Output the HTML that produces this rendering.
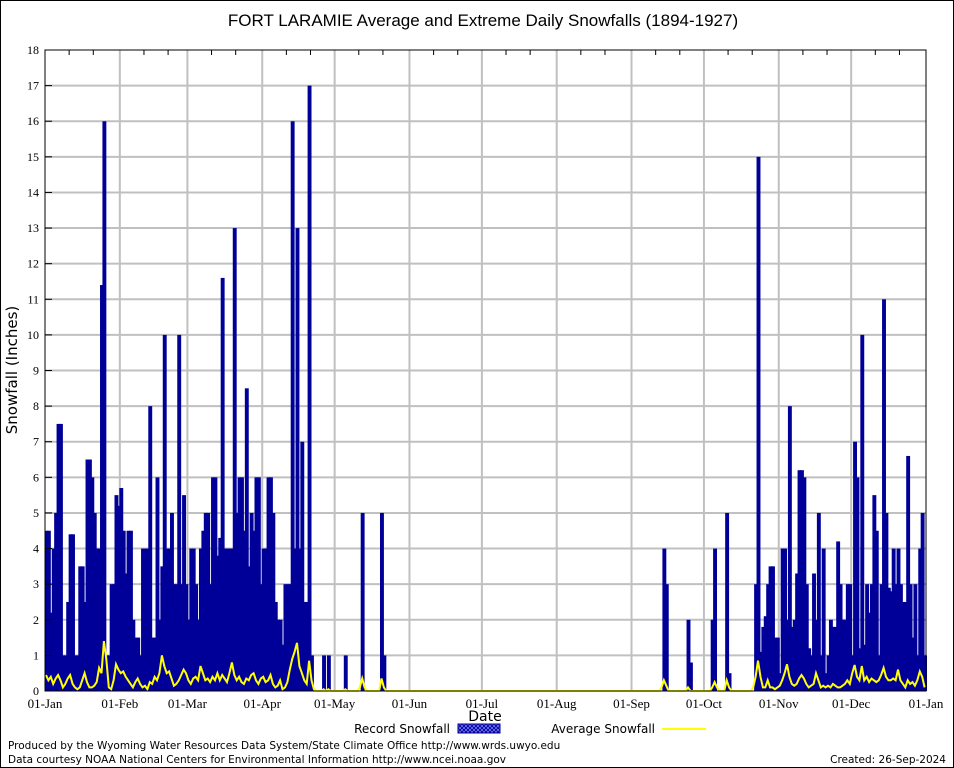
<!DOCTYPE html>
<html><head><meta charset="utf-8"><style>
body{margin:0;background:#fff;}
svg{display:block;font-family:"Liberation Sans",sans-serif;}
.dv{font-family:"DejaVu Sans",sans-serif;}
.sf{font-family:"Liberation Serif",serif;}
</style></head><body>
<svg id="chart" width="954" height="768">
<rect x="0.5" y="0.5" width="953" height="767" fill="#fff" stroke="#000"/>
<text x="483" y="26" font-size="17" text-anchor="middle">FORT LARAMIE Average and Extreme Daily Snowfalls (1894-1927)</text>
<g id="grid"></g>
<g id="bars"></g>
<g id="avg"></g>
<g id="axes"></g>
<text class="dv" x="17" y="370" font-size="15" text-anchor="middle" transform="rotate(-90 17 370)">Snowfall (Inches)</text>
<text class="dv" x="485" y="721" font-size="14" text-anchor="middle">Date</text>
<g>
<text class="dv" x="450" y="733" font-size="12" text-anchor="end">Record Snowfall</text>
<defs><pattern id="hatch" width="4" height="4" patternUnits="userSpaceOnUse"><rect width="4" height="4" fill="#000099"/><path d="M0 0L4 4M4 0L0 4" stroke="#8080ff" stroke-width="0.7"/></pattern></defs>
<rect x="458" y="724" width="42" height="9" fill="url(#hatch)" stroke="#000099"/>
<text class="dv" x="655" y="733" font-size="12" text-anchor="end">Average Snowfall</text>
<line x1="662" y1="729" x2="706" y2="729" stroke="#ffff00" stroke-width="2"/>
</g>
<text class="dv" x="8" y="749" font-size="10.5">Produced by the Wyoming Water Resources Data System/State Climate Office http://www.wrds.uwyo.edu</text>
<text class="dv" x="8" y="763" font-size="10.5">Data courtesy NOAA National Centers for Environmental Information http://www.ncei.noaa.gov</text>
<text class="dv" x="946" y="763" font-size="10.5" text-anchor="end">Created:  26-Sep-2024</text>
</svg>
<script>
const recordDays = [0,1,2,3,4,5,6,7,8,9,10,11,12,13,14,15,16,17,18,19,20,21,22,23,24,25,26,27,28,29,30,
31,32,33,34,35,36,37,38,39,40,41,42,43,44,45,46,47,48,49,50,51,52,53,54,55,56,57,58,
59,60,61,62,63,64,65,66,67,68,69,70,71,72,73,74,75,76,77,78,79,80,81,82,83,84,85,86,87,88,89,
90,91,92,93,94,95,96,97,98,99,100,101,102,103,104,105,106,107,108,109,110,115,117,124,131,139,140,
256,257,266,267,276,277,282,283,294,295,296,297,298,299,300,301,302,303,304,305,306,307,308,309,310,311,312,313,314,315,316,317,318,319,320,321,322,323,324,325,326,327,328,329,330,331,332,333,334,335,336,337,338,339,340,341,342,343,344,345,346,347,348,349,350,351,352,353,354,355,356,357,358,359,360,361,362,363,364];
const recordValues = [4.5,4.5,2.2,4,5,7.5,7.5,1,1,2.5,4.4,4.4,1,1,3.5,3.5,2.5,6.5,6.5,6,5,4,4,11.4,16,1,1,3,3,5.5,5.2,
5.7,4.5,3.3,4.5,4.5,2,1.5,1.5,1,4,4,4,8,1.5,1.5,6,2,3.5,10,4,4,5,3,3,10,3,5.5,3,
2,4,4,3,2,4,4.5,5,5,3,6,6,3.8,4.3,11.6,4,4,4,4,13,5,6,6,4.5,8.5,3.5,5,4.5,6,6,3,
4,4,6,6,5,2.5,2,2,1.3,3,3,3,16,4,13,4,7,2.5,2.5,17,1,1,1,1,5,5,1,
4,3,2,0.8,2,4,5,0.5,3,15,1.1,1.8,2.1,3,3.5,3.5,1.5,1.5,0.5,4,4,2,8,1.8,2,3.3,6.2,6.2,6,3,1.2,1,3.3,2,5,1,4,0.5,1,2,1.8,1.8,4.2,3,2,2,3,3,1,7,6,1.2,10,1.3,3,2.2,3,5.5,4.5,1,3,11,5,2.9,2.8,4,3,4,3,2.5,2.5,6.6,3,1.5,3,1,4,5,1];
const avgDays = [0,1,2,3,4,5,6,7,8,9,10,11,12,13,14,15,16,17,18,19,20,21,22,23,24,25,26,27,28,29,30,
31,32,33,34,35,36,37,38,39,40,41,42,43,44,45,46,47,48,49,50,51,52,53,54,55,56,57,58,
59,60,61,62,63,64,65,66,67,68,69,70,71,72,73,74,75,76,77,78,79,80,81,82,83,84,85,86,87,88,89,
90,91,92,93,94,95,96,97,98,99,100,101,102,103,104,105,106,107,108,109,110,111,115,117,124,130,131,132,139,140,
255,256,257,266,276,277,278,282,283,293,294,295,296,297,298,299,300,301,302,303,304,305,306,307,308,309,310,311,312,313,314,315,316,317,318,319,320,321,322,323,324,325,326,327,328,329,330,331,332,333,334,335,336,337,338,339,340,341,342,343,344,345,346,347,348,349,350,351,352,353,354,355,356,357,358,359,360,361,362,363,364];
const avgValues = [0.45,0.3,0.4,0.2,0.35,0.45,0.3,0.1,0.2,0.35,0.45,0.2,0.1,0.05,0.1,0.3,0.5,0.25,0.1,0.1,0.15,0.25,0.65,0.5,1.4,0.9,0.1,0.05,0.3,0.75,0.6,
0.5,0.55,0.4,0.3,0.2,0.1,0.25,0.35,0.2,0.1,0.15,0.05,0.25,0.2,0.4,0.3,0.5,1.0,0.7,0.5,0.55,0.35,0.15,0.2,0.3,0.45,0.6,0.5,
0.3,0.2,0.35,0.4,0.3,0.7,0.5,0.3,0.35,0.25,0.4,0.3,0.5,0.3,0.45,0.35,0.25,0.5,0.8,0.45,0.3,0.4,0.25,0.2,0.35,0.3,0.45,0.5,0.3,0.2,0.35,
0.4,0.25,0.3,0.45,0.2,0.1,0.15,0.3,0.05,0.1,0.25,0.6,0.9,1.1,1.35,0.7,0.5,0.3,0.2,0.85,0.3,0.05,0.05,0.05,0.05,0.1,0.35,0.1,0.35,0.1,
0.1,0.3,0.15,0.1,0.1,0.25,0.1,0.3,0.1,0.1,0.4,0.85,0.4,0.1,0.1,0.3,0.1,0.1,0.05,0.1,0.15,0.3,0.5,0.75,0.4,0.2,0.15,0.2,0.35,0.45,0.35,0.2,0.1,0.15,0.2,0.5,0.3,0.1,0.15,0.1,0.15,0.1,0.2,0.15,0.1,0.1,0.15,0.2,0.3,0.2,0.5,0.73,0.4,0.3,0.7,0.3,0.4,0.25,0.35,0.3,0.25,0.3,0.45,0.65,0.4,0.3,0.3,0.35,0.3,0.6,0.3,0.2,0.1,0.3,0.2,0.25,0.15,0.3,0.55,0.4,0.1];
const yTicks = [0,1,2,3,4,5,6,7,8,9,10,11,12,13,14,15,16,17,18];
const monthStarts = [0,31,59,90,120,151,181,212,243,273,304,334,365];
const monthLabels = ["01-Jan","01-Feb","01-Mar","01-Apr","01-May","01-Jun","01-Jul","01-Aug","01-Sep","01-Oct","01-Nov","01-Dec","01-Jan"];

const NS = "http://www.w3.org/2000/svg";
const L = 45, R = 926, T = 50, B = 691, YMAX = 18, NDAYS = 365;
function xs(d){ return L + d*(R-L)/NDAYS; }
function ys(v){ return B - v*(B-T)/YMAX; }
function mk(tag, attrs, parent){ const e=document.createElementNS(NS,tag); for(const k in attrs) e.setAttribute(k,attrs[k]); parent.appendChild(e); return e; }
const grid=document.getElementById('grid'), bars=document.getElementById('bars'), avgG=document.getElementById('avg'), axes=document.getElementById('axes');

yTicks.forEach(v=>{
  if(v>0 && v<YMAX){ const g=mk('line',{x1:L,x2:R,y1:ys(v),y2:ys(v),stroke:'#c0c0c0','stroke-width':2},grid);
  
   }
  const t=mk('text',{x:L-6,y:ys(v)+4,'font-size':12,'text-anchor':'end','class':'sf'},axes);
  t.textContent=v;
  
  
  const tk=mk('line',{x1:L,x2:L+7,y1:ys(v),y2:ys(v),stroke:'#000'},axes);
  
  
});
monthStarts.forEach((d,i)=>{
  if(i>0 && i<monthStarts.length-1){ const g=mk('line',{x1:xs(d),x2:xs(d),y1:T,y2:B,stroke:'#c0c0c0','stroke-width':2},grid);
  
   }
  const t=mk('text',{x:xs(d),y:708,'font-size':13,'text-anchor':'middle','class':'sf'},axes);
  t.textContent=monthLabels[i];
  
  
  if(i<monthStarts.length-1){ [10,20].forEach(o=>{
    const mt=mk('line',{x1:xs(d+o),x2:xs(d+o),y1:T,y2:T+5,stroke:'#000'},axes);
    
    
  }); }
});
const dw=(R-L)/NDAYS;
recordDays.forEach((d,i)=>{
  const v=recordValues[i]; if(!v) return;
  const r=mk('rect',{x:xs(d)-0.5,y:ys(v),width:dw+1.5,height:B-ys(v),fill:'#000099'},bars);
  
  
});
const full=new Array(NDAYS).fill(0);
avgDays.forEach((d,i)=>{ full[d]=avgValues[i]; });
const pts=full.map((v,d)=>(xs(d)+1).toFixed(1)+','+ys(v).toFixed(1)).join(' ');
const pl=mk('polyline',{points:pts,fill:'none',stroke:'#ffff00','stroke-width':2},avgG);


const fr=mk('rect',{x:L,y:T,width:R-L,height:B-T,fill:'none',stroke:'#000','stroke-width':1},axes);


</script>
</body></html>
